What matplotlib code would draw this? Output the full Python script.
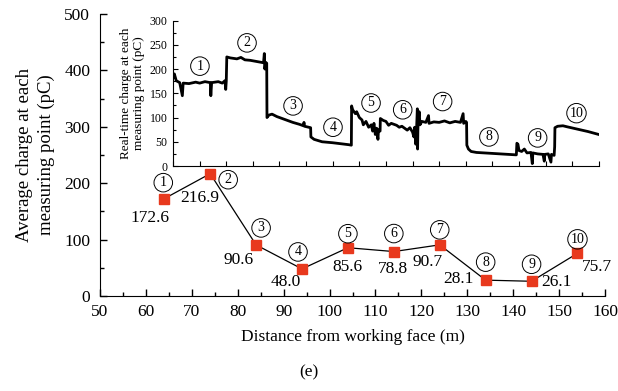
import matplotlib
matplotlib.use("Agg")
import matplotlib.pyplot as plt
from matplotlib.ticker import MultipleLocator, NullFormatter

# donnees principales : charge moyenne par point de mesure
distance = [64, 74, 84, 94, 104, 114, 124, 134, 144, 154]
charge_moy = [172.6, 216.9, 90.6, 48.0, 85.6, 78.8, 90.7, 28.1, 26.1, 75.7]
etiquettes = ["172.6", "216.9", "90.6", "48.0", "85.6", "78.8", "90.7", "28.1", "26.1", "75.7"]
numeros = ["1", "2", "3", "4", "5", "6", "7", "8", "9", "10"]

# courbe temps reel (encart), lue a la main sur l'image
t_reel = [0, 5, 12, 25, 35, 38, 60, 85, 100, 120, 140, 142, 145, 170, 185, 195, 198, 200,
          202, 215, 240, 255, 270, 290, 310, 330, 340, 343, 345, 348, 352,
          353, 360, 372, 390, 420, 450, 475, 490, 492, 494, 510, 517,
          518, 530, 560, 600, 630, 660, 670,
          671, 675, 685, 690, 700, 710, 715, 725, 735, 745, 750, 755, 760, 765, 770, 772, 778,
          779, 790, 800, 810, 820, 840, 850, 860, 870, 880, 890, 900, 905, 908, 912, 915, 918, 919, 920,
          921, 925, 928, 935, 950, 960, 962, 980, 1000, 1020, 1040, 1060, 1080, 1090, 1092, 1100, 1103,
          1104, 1110, 1120, 1140, 1170, 1200, 1230, 1260, 1290,
          1292, 1296, 1300, 1310, 1320, 1330, 1345, 1350, 1352, 1370, 1390, 1395, 1397, 1410, 1420, 1422, 1432, 1434,
          1435, 1445, 1465, 1480, 1520, 1560, 1600]
q_reel = [182, 190, 176, 172, 145, 171, 170, 173, 171, 174, 172, 145, 172, 174, 171, 176, 158, 175,
          225, 223, 221, 224, 219, 218, 216, 214, 213, 232, 200, 214, 212,
          100, 105, 107, 102, 96, 90, 86, 83, 90, 82, 80, 79,
          60, 55, 50, 48, 46, 44, 43,
          124, 116, 108, 112, 100, 95, 85, 92, 80, 85, 72, 88, 65, 78, 55, 75, 72,
          98, 94, 92, 84, 88, 84, 80, 82, 78, 74, 79, 70, 60, 80, 45, 75, 118, 35, 74,
          92, 112, 85, 92, 90, 104, 88, 91, 90, 93, 89, 92, 90, 108, 88, 92, 90,
          43, 35, 30, 28, 27, 26, 25, 24, 23,
          47, 45, 32, 30, 35, 27, 28, 5, 27, 25, 24, 10, 24, 25, 8, 24, 22, 40,
          79, 82, 83, 81, 76, 71, 65]

plt.rcParams["font.family"] = ["Liberation Serif", "DejaVu Serif"]
rouge = "#e8391d"
taille = 12.5
cercle = dict(boxstyle="circle,pad=0.2", fc="none", ec="black", lw=0.7)

fig = plt.figure(figsize=(6.18, 3.91), dpi=100)
ax = fig.add_axes([0.1618, 0.243, 0.8172, 0.721])

ax.plot(distance, charge_moy, color="black", lw=0.9, zorder=2)
ax.plot(distance, charge_moy, "s", color=rouge, ms=6.5, zorder=3)

# decalages des etiquettes (pixels)
dec_val = [(-14, -19), (-10, -24), (-18, -15), (-16, -13), (0, -19),
           (-1, -17), (-12, -17), (-27, 1), (25, -1), (19, -14)]
dec_num = [(-1, 16), (18, -6), (5, 17), (-4, 17), (0, 14),
           (0, 18), (0, 15), (0, 18), (0, 17), (0, 14)]
for x, y, txt, n, dv, dn in zip(distance, charge_moy, etiquettes, numeros, dec_val, dec_num):
    ax.annotate(txt, (x, y), xytext=dv, textcoords="offset pixels",
                ha="center", va="center", fontsize=taille)
    ax.annotate(n, (x, y), xytext=dn, textcoords="offset pixels",
                ha="center", va="center", fontsize=10, bbox=cercle)

ax.set_xlim(50, 160)
ax.set_ylim(0, 500)
ax.xaxis.set_major_locator(MultipleLocator(10))
ax.xaxis.set_minor_locator(MultipleLocator(5))
ax.yaxis.set_major_locator(MultipleLocator(100))
ax.yaxis.set_minor_locator(MultipleLocator(50))
ax.tick_params(which="both", direction="in", labelsize=taille, width=1)
ax.tick_params(axis="x", pad=6)
ax.tick_params(axis="y", pad=7)
ax.tick_params(which="major", length=5)
ax.tick_params(which="minor", length=3)
ax.spines["top"].set_visible(False)
ax.spines["right"].set_visible(False)
ax.set_xlabel("Distance from working face (m)", fontsize=taille, labelpad=6)
ax.set_ylabel("Average charge at each\nmeasuring point (pC)", fontsize=13.5,
              labelpad=7, linespacing=1.3)

fig.text(0.5, 0.048, "(e)", ha="center", va="center", fontsize=taille)

# encart temps reel
ins = fig.add_axes([0.28, 0.5754, 0.689, 0.372])
ins.plot(t_reel, q_reel, color="black", lw=2.0)
pos_num = [(101, 206), (278, 254), (451, 124), (601, 80), (744, 130),
           (863, 116), (1013, 133), (1187, 60), (1370, 58), (1516, 109)]
for n, (px, py) in zip(numeros, pos_num):
    ins.text(px, py, n, ha="center", va="center", fontsize=10, bbox=cercle)
ins.set_xlim(0, 1600)
ins.set_ylim(0, 300)
ins.xaxis.set_major_locator(MultipleLocator(100))
ins.xaxis.set_major_formatter(NullFormatter())
ins.yaxis.set_major_locator(MultipleLocator(50))
ins.yaxis.set_minor_locator(MultipleLocator(25))
ins.tick_params(which="both", direction="in", labelsize=8.5, width=0.8, pad=4)
ins.tick_params(which="major", length=3.5)
ins.tick_params(which="minor", length=2)
ins.spines["top"].set_visible(False)
ins.spines["right"].set_visible(False)
ins.set_ylabel("Real-time charge at each\nmeasuring point (pC)", fontsize=9.5, labelpad=3)
ins.patch.set_alpha(0)

fig.savefig("out.png", dpi=100)
